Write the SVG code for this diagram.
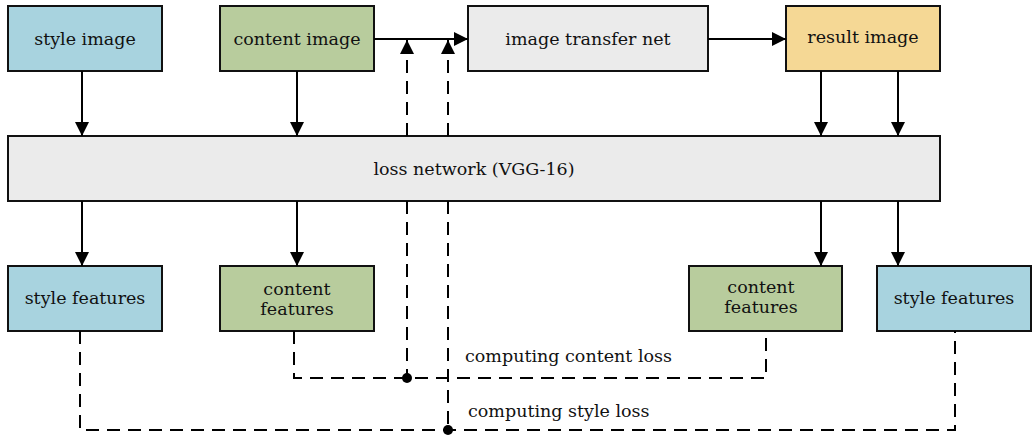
<svg xmlns="http://www.w3.org/2000/svg" width="1032" height="437" viewBox="0 0 1032 437">
<style>
.box{stroke:#111;stroke-width:2}
.blue{fill:#a8d3df}
.green{fill:#b8cc9d}
.gray{fill:#ebebeb}
.yellow{fill:#f5d895}
text{font-family:"DejaVu Serif","Liberation Serif",serif;font-size:17.5px;fill:#111;text-anchor:middle}
.lbl{text-anchor:start}
.solid{stroke:#000;stroke-width:2;fill:none}
.dash{stroke:#000;stroke-width:2;fill:none;stroke-dasharray:13 8}
</style>
<defs>
<marker id="ahL" viewBox="0 0 14 14" refX="14" refY="7" markerWidth="14" markerHeight="14" markerUnits="userSpaceOnUse" orient="auto">
<path d="M0,0 L14,7 L0,14 z" fill="#000"/>
</marker>
</defs>
<g id="style-image"><rect class="box blue" x="8" y="6" width="154" height="65"/><text x="85" y="45">style image</text></g>
<g id="content-image"><rect class="box green" x="220" y="6" width="154" height="65"/><text x="297" y="45">content image</text></g>
<g id="transfer-net"><rect class="box gray" x="468" y="6" width="240" height="65"/><text x="588" y="45">image transfer net</text></g>
<g id="result-image"><rect class="box yellow" x="786" y="6" width="154" height="65"/><text x="863" y="43">result image</text></g>
<g id="loss-network"><rect class="box gray" x="8" y="136" width="932" height="65"/><text x="474" y="175">loss network (VGG-16)</text></g>
<g id="style-features-1"><rect class="box blue" x="8" y="266" width="154" height="65"/><text x="85" y="304">style features</text></g>
<g id="content-features-1"><rect class="box green" x="220" y="266" width="154" height="65"/><text x="297" y="295">content</text><text x="297" y="315">features</text></g>
<g id="content-features-2"><rect class="box green" x="689" y="266" width="153" height="65"/><text x="761" y="293">content</text><text x="761" y="313">features</text></g>
<g id="style-features-2"><rect class="box blue" x="877" y="266" width="154" height="65"/><text x="954" y="304">style features</text></g>
<g id="connectors">
<line class="solid" x1="82" y1="71" x2="82" y2="136" marker-end="url(#ahL)"/>
<line class="solid" x1="297" y1="71" x2="297" y2="136" marker-end="url(#ahL)"/>
<line class="solid" x1="821" y1="71" x2="821" y2="136" marker-end="url(#ahL)"/>
<line class="solid" x1="898" y1="71" x2="898" y2="136" marker-end="url(#ahL)"/>
<line class="solid" x1="82" y1="201" x2="82" y2="266" marker-end="url(#ahL)"/>
<line class="solid" x1="297" y1="201" x2="297" y2="266" marker-end="url(#ahL)"/>
<line class="solid" x1="821" y1="201" x2="821" y2="266" marker-end="url(#ahL)"/>
<line class="solid" x1="898" y1="201" x2="898" y2="266" marker-end="url(#ahL)"/>
<line class="solid" x1="374" y1="39" x2="468" y2="39" marker-end="url(#ahL)"/>
<line class="solid" x1="708" y1="39" x2="786" y2="39" marker-end="url(#ahL)"/>
<line class="solid" x1="407" y1="136" x2="407" y2="40" stroke-dasharray="13 8" marker-end="url(#ahL)"/>
<line class="solid" x1="448" y1="136" x2="448" y2="40" stroke-dasharray="13 8" marker-end="url(#ahL)"/>
<line class="dash" x1="407" y1="201" x2="407" y2="378"/>
<line class="dash" x1="448" y1="201" x2="448" y2="430"/>
<polyline class="dash" points="294,331 294,378 766,378 766,331"/>
<polyline class="dash" points="80,331 80,430 955,430 955,331"/>
<circle cx="407" cy="378" r="5" fill="#000"/>
<circle cx="448" cy="430" r="5" fill="#000"/>
</g>
<text class="lbl" x="465" y="362">computing content loss</text>
<text class="lbl" x="468" y="417">computing style loss</text>
</svg>
